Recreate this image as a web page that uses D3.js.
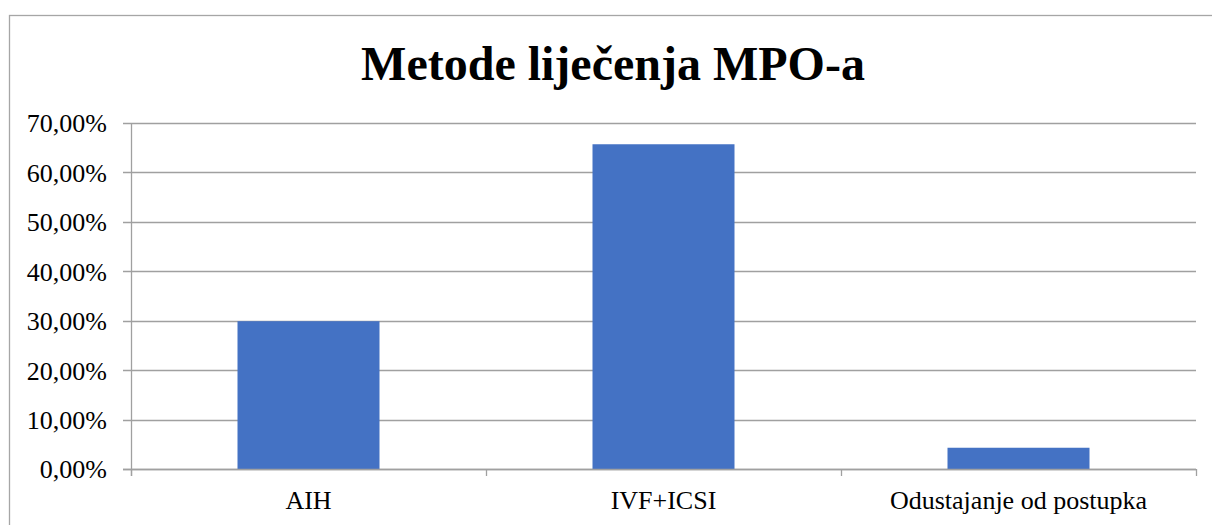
<!DOCTYPE html>
<html>
<head>
<meta charset="utf-8">
<script src="https://cdn.jsdelivr.net/npm/d3@7"></script>
<style>
  html, body { margin: 0; padding: 0; background: #fff; }
  svg { display: block; }
</style>
</head>
<body>
<svg id="chart" width="1212" height="525"></svg>
<script>
const title = "Metode liječenja MPO-a";
const categories = ["AIH", "IVF+ICSI", "Odustajanje od postupka"];
const values = [0.299, 0.657, 0.043];
const yTicks = [0, 0.1, 0.2, 0.3, 0.4, 0.5, 0.6, 0.7];

const svg = d3.select("#chart");
const W = 1212, H = 525;
const margin = { left: 131, right: 16, top: 123, bottom: 56 };
const x0 = margin.left, x1 = W - margin.right;
const yTop = margin.top, yBot = H - margin.bottom;

const font = "'Liberation Serif', 'Times New Roman', serif";
const gridColor = "#a0a0a0";

// outer border
svg.append("rect")
  .attr("x", 9.5).attr("y", 15.5)
  .attr("width", W + 20).attr("height", H + 20)
  .attr("fill", "none").attr("stroke", "#a6a6a6").attr("stroke-width", 1.3);

const x = d3.scaleBand().domain(categories).range([x0, x1]).paddingInner(0.6).paddingOuter(0.3);
const xb = d3.scaleBand().domain(categories).range([x0, x1]);
const y = d3.scaleLinear().domain([0, 0.7]).range([yBot, yTop]);

// gridlines
svg.append("g").selectAll("line").data(yTicks).join("line")
  .attr("x1", x0 - 8).attr("x2", x1)
  .attr("y1", d => Math.round(y(d)) + 0.5).attr("y2", d => Math.round(y(d)) + 0.5)
  .attr("stroke", gridColor).attr("stroke-width", 1.3);

// y axis labels
const fmt = d => d3.format(".2f")(d * 100).replace(".", ",") + "%";
svg.append("g").selectAll("text").data(yTicks).join("text")
  .attr("x", 107).attr("y", d => y(d)).attr("dy", "0.36em")
  .attr("text-anchor", "end")
  .attr("font-family", font).attr("font-size", 26).attr("fill", "#000")
  .text(fmt);

// bars
svg.append("g").selectAll("rect").data(categories).join("rect")
  .attr("x", d => x(d)).attr("width", x.bandwidth())
  .attr("y", (d, i) => y(values[i]))
  .attr("height", (d, i) => yBot - y(values[i]))
  .attr("fill", "#4472C4");

// y axis line
svg.append("line")
  .attr("x1", x0 + 0.5).attr("x2", x0 + 0.5)
  .attr("y1", yTop).attr("y2", yBot + 7)
  .attr("stroke", gridColor).attr("stroke-width", 1.3);

// x axis line
svg.append("line")
  .attr("x1", x0 - 8).attr("x2", x1)
  .attr("y1", Math.round(yBot) + 0.5).attr("y2", Math.round(yBot) + 0.5)
  .attr("stroke", gridColor).attr("stroke-width", 1.3);

// x ticks at category boundaries
const bounds = categories.map(c => xb(c)).concat([x1]);
svg.append("g").selectAll("line").data(bounds).join("line")
  .attr("x1", d => Math.round(d) + 0.5).attr("x2", d => Math.round(d) + 0.5)
  .attr("y1", yBot).attr("y2", yBot + 7)
  .attr("stroke", gridColor).attr("stroke-width", 1.3);

// category labels
svg.append("g").selectAll("text").data(categories).join("text")
  .attr("x", d => xb(d) + xb.bandwidth() / 2).attr("y", 509)
  .attr("text-anchor", "middle")
  .attr("font-family", font).attr("font-size", 26).attr("fill", "#000")
  .text(d => d);

// title
svg.append("text")
  .attr("x", 613).attr("y", 80)
  .attr("text-anchor", "middle")
  .attr("font-family", font).attr("font-size", 48).attr("font-weight", "bold")
  .attr("fill", "#000")
  .text(title);
</script>
</body>
</html>
